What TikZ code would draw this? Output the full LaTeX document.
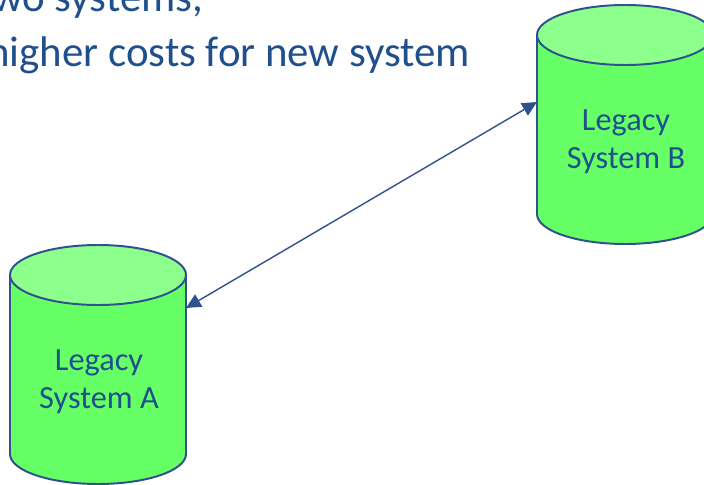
\documentclass[tikz,border=0pt]{standalone}
\usepackage{fontspec}
\setmainfont{Carlito}
\usetikzlibrary{arrows.meta}

\definecolor{slidetext}{RGB}{31,80,140}
\definecolor{dbline}{RGB}{47,82,143}
\definecolor{dbbody}{RGB}{102,255,102}
\definecolor{dbtop}{RGB}{140,255,140}

\tikzset{
    dbedge/.style={draw=dbline, line width=1.4pt},
    dblabel/.style={text=slidetext, align=center, font=\fontsize{23}{27}\selectfont},
    slideline/.style={text=slidetext, anchor=base west, inner sep=0pt, font=\fontsize{30.5}{36}\selectfont},
    link/.style={draw=dbline, line width=1pt, {Triangle[length=10.5pt,width=10pt]}-{Triangle[length=10.5pt,width=10pt]}}
}

\begin{document}
\begin{tikzpicture}[x=0.025cm, y=-0.025cm]
    \useasboundingbox (0,0) rectangle (704,485);
    \clip (0,0) rectangle (704,485);

    % Slide text (cut at the top)
    \node[slideline] (lineone) at (-8,12) {wo systems,};
    \node[slideline] (linetwo) at (-13,67) {higher costs for new system};

    % Cylinders
    \foreach \cx/\cy/\nm/\lbl in {98/275/sysA/A, 625/35/sysB/B}
    {
        \draw [dbedge, fill=dbbody] (\cx-88,\cy) -- (\cx-88,\cy+179)
            arc [start angle=180, end angle=0, x radius=88, y radius=30] -- (\cx+88,\cy) -- cycle;
        \draw [dbedge, fill=dbtop] (\cx,\cy) ellipse (88 and 30);
        \node[dblabel] (\nm) at (\cx+1,\cy+107) {Legacy\\System \lbl};
    }

    % Link between the two systems
    \coordinate (portA) at (186,308);
    \coordinate (portB) at (537,102);
    \draw [link] (portA) -- (portB);

\end{tikzpicture}
\end{document}
